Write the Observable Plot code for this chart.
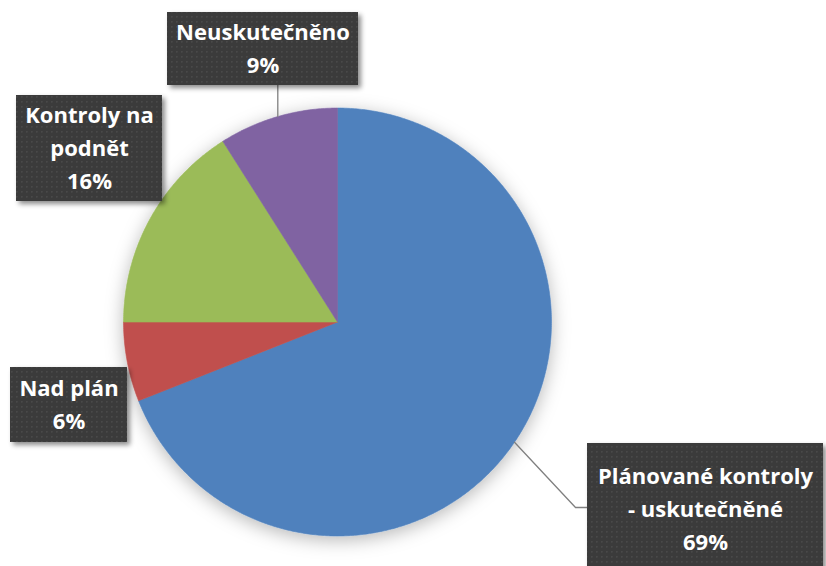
<!DOCTYPE html>
<html>
<head>
<meta charset="utf-8">
<script src="https://cdn.jsdelivr.net/npm/d3@7"></script>
<script src="https://cdn.jsdelivr.net/npm/@observablehq/plot@0.6"></script>
<style>
  html, body { margin: 0; padding: 0; background: #ffffff; }
  #chart { width: 826px; height: 566px; }
</style>
</head>
<body>
<div id="chart"></div>
<script>
// ---- data ----
const categories = ["Plánované kontroly - uskutečněné", "Nad plán", "Kontroly na podnět", "Neuskutečněno"];
const values = [69, 6, 16, 9];
const labelNames = ["Plánované kontroly\n- uskutečněné", "Nad plán", "Kontroly na\npodnět", "Neuskutečněno"];
const colors = ["#4F81BD", "#C0504D", "#9BBB59", "#8064A2"];

// ---- layout (pixels) ----
const W = 826, H = 566;
const CX = 337, CY = 321.5, R = 214;
const boxX = [587, 10, 16, 167];
const boxY = [443, 367, 95, 12];
const boxW = [236, 117, 146, 191];
const boxH = [132, 75, 106, 73];

// ---- slices from values ----
const arcs = d3.pie().sort(null).value(d => d)(values);
const pieRows = [];
arcs.forEach((a, i) => {
  const cat = categories[i];
  pieRows.push({cat, x: CX, y: CY});
  const n = Math.max(4, Math.ceil((a.endAngle - a.startAngle) / (Math.PI / 360)));
  for (let k = 0; k <= n; k++) {
    const t = a.startAngle + (a.endAngle - a.startAngle) * k / n;
    pieRows.push({cat, x: CX + R * Math.sin(t), y: CY - R * Math.cos(t)});
  }
  pieRows.push({cat, x: CX, y: CY});
});

// ---- leader lines (slice mid-angle to box) ----
const leaderRows = [];
arcs.forEach((a, i) => {
  const m = (a.startAngle + a.endAngle) / 2;
  const px = CX + R * Math.sin(m), py = CY - R * Math.cos(m);
  const cat = categories[i];
  if (i === 0) {
    leaderRows.push({cat, x: px, y: py}, {cat, x: boxX[0] - 12, y: 507}, {cat, x: boxX[0], y: 507});
  } else if (i === 3) {
    leaderRows.push({cat, x: px, y: py}, {cat, x: px, y: boxY[3] + boxH[3]});
  }
});

// ---- label boxes ----
const boxRows = categories.map((c, i) => ({
  cat: c, x1: boxX[i], x2: boxX[i] + boxW[i], y1: boxY[i], y2: boxY[i] + boxH[i],
  tx: boxX[i] + boxW[i] / 2, ty: boxY[i] + boxH[i] / 2,
  text: labelNames[i] + "\n" + values[i] + "%"
}));

const svg = Plot.plot({
  width: W, height: H,
  margin: 0,
  x: {domain: [0, W], range: [0, W], axis: null},
  y: {domain: [0, H], range: [0, H], axis: null},
  color: {domain: categories, range: colors, legend: false},
  style: {background: "#ffffff", overflow: "visible"},
  marks: [
    Plot.line(pieRows, {x: "x", y: "y", z: "cat", fill: "cat", stroke: "cat", strokeWidth: 0.6, curve: "linear"}),
    Plot.line(leaderRows, {x: "x", y: "y", z: "cat", stroke: "#808080", strokeWidth: 1.3}),
    Plot.rect(boxRows, {x1: "x1", x2: "x2", y1: "y1", y2: "y2", fill: "url(#dots)"}),
    Plot.text(boxRows, {x: "tx", y: "ty", text: "text", fill: "#ffffff", fontSize: 22, fontWeight: "bold", dy: -3,
      fontFamily: "'Open Sans', Lato, sans-serif", lineHeight: 1.5, lineAnchor: "middle", textAnchor: "middle"})
  ]
});

const defs = `
<defs>
  <pattern id="dots" width="5" height="5" patternUnits="userSpaceOnUse">
    <rect width="5" height="5" fill="#3a3a3a"/>
    <rect x="1" y="1" width="1.6" height="1.6" fill="#4a4a4a"/>
  </pattern>
  <filter id="pieShadow" x="-20%" y="-20%" width="140%" height="140%">
    <feDropShadow dx="0" dy="4" stdDeviation="9" flood-color="#000" flood-opacity="0.28"/>
  </filter>
  <filter id="boxShadow" x="-20%" y="-20%" width="140%" height="140%">
    <feDropShadow dx="3" dy="3" stdDeviation="2.5" flood-color="#000" flood-opacity="0.45"/>
  </filter>
</defs>`;
svg.insertAdjacentHTML("afterbegin", defs);
const lineGs = svg.querySelectorAll('g[aria-label="line"]');
if (lineGs[0]) lineGs[0].setAttribute("filter", "url(#pieShadow)");
const boxG = svg.querySelector('g[aria-label="rect"]');
if (boxG) boxG.setAttribute("filter", "url(#boxShadow)");
document.getElementById("chart").appendChild(svg);
</script>
</body>
</html>
